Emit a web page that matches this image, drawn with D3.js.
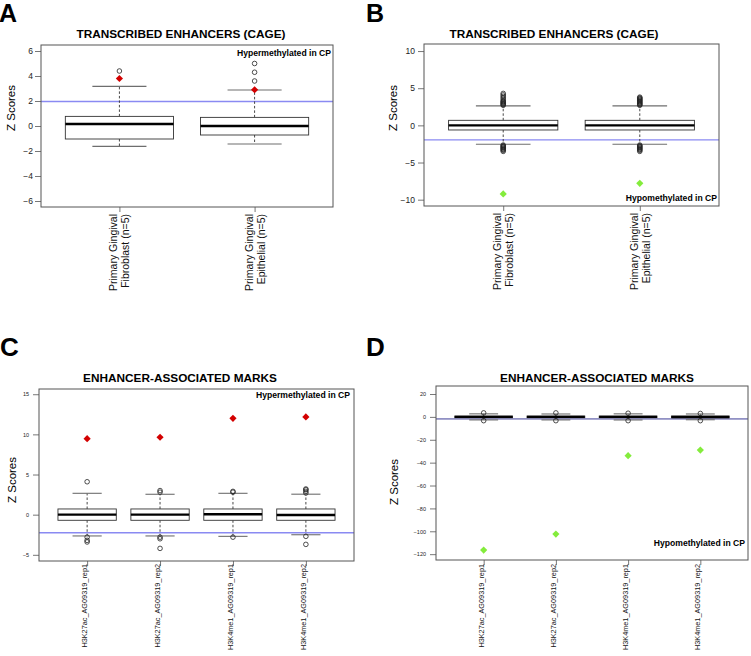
<!DOCTYPE html>
<html><head><meta charset="utf-8">
<script src="https://cdn.jsdelivr.net/npm/d3@7"></script>
<style>
body{margin:0;background:#fff}
svg{display:block;font-family:"Liberation Sans",Arial,Helvetica,sans-serif}
</style>
</head><body>
<svg id="chart" width="751" height="656"></svg>
<script>
// ---------------- DATA ----------------
const cageCategories = [["Primary Gingival", "Fibroblast (n=5)"], ["Primary Gingival", "Epithelial (n=5)"]];
const marksCategories = ["H3K27ac_AG09319_rep1", "H3K27ac_AG09319_rep2", "H3K4me1_AG09319_rep1", "H3K4me1_AG09319_rep2"];

// box stats: [lower whisker, Q1, median, Q3, upper whisker]
const aBoxStats = [[-1.63, -1.04, 0.16, 0.77, 3.17], [-1.44, -0.72, 0.0, 0.69, 2.88]];
const aOutliers = [[4.4], [3.6, 4.3, 5.0]];
const aHighlight = [3.8, 2.9];
const aTicks = [-6, -4, -2, 0, 2, 4, 6];
const aThreshold = 1.96;

const bBoxStats = [[-2.55, -0.62, 0.0, 0.68, 2.63], [-2.55, -0.62, 0.0, 0.68, 2.63]];
const bOutliers = [
  [2.7, 2.8, 2.9, 3.0, 3.1, 3.2, 3.3, 3.5, 3.7, 3.9, 4.1, 4.3, -2.65, -2.75, -2.85, -2.95, -3.05, -3.15, -3.25, -3.35, -3.5],
  [2.7, 2.8, 2.9, 3.0, 3.1, 3.2, 3.3, 3.4, 3.5, 3.6, 3.7, 3.8, -2.65, -2.75, -2.85, -2.95, -3.05, -3.15, -3.25, -3.35, -3.5]
];
const bHighlight = [-9.23, -7.8];
const bTicks = [-10, -5, 0, 5, 10];
const bThreshold = -1.96;

const cBoxStats = [
  [-2.65, -0.7, 0.0, 0.71, 2.66],
  [-2.65, -0.7, 0.0, 0.71, 2.54],
  [-2.7, -0.7, 0.05, 0.71, 2.66],
  [-2.5, -0.7, -0.05, 0.71, 2.55]
];
const cOutliers = [[4.1, -2.8, -3.2, -3.4], [2.8, 3.0, -2.8, -3.0, -4.2], [2.8, 2.9, -2.8], [2.7, 2.9, 3.1, 3.2, -2.7, -3.7]];
const cHighlight = [9.46, 9.64, 12.0, 12.17];
const cTicks = [-5, 0, 5, 10, 15];
const cThreshold = -2.24;

const dBoxStats = [
  [-2.65, -0.7, 0.0, 0.71, 2.66],
  [-2.65, -0.7, 0.0, 0.71, 2.54],
  [-2.7, -0.7, 0.05, 0.71, 2.66],
  [-2.5, -0.7, -0.05, 0.71, 2.55]
];
const dOutliers = [[3.5, -3.3], [3.5, -3.3], [3.2, -3.3], [3.0, -3.3]];
const dHighlight = [-116.4, -102.4, -33.9, -29.0];
const dTicks = [-120, -100, -80, -60, -40, -20, 0, 20];
const dThreshold = -1.8;

const titleCage = "TRANSCRIBED ENHANCERS (CAGE)";
const titleMarks = "ENHANCER-ASSOCIATED MARKS";
const noteHyper = "Hypermethylated in CP";
const noteHypo = "Hypomethylated in CP";
const yLabel = "Z Scores";

// ---------------- DRAW ----------------
const svg = d3.select("#chart");

function drawPanel(p) {
  const g = svg.append("g");
  const n = p.stats.length;
  const pad = n * 0.04;
  const x = d3.scaleLinear().domain([0.5 - pad, n + 0.5 + pad]).range([p.left, p.right]);
  const y = d3.scaleLinear().domain(p.yDomain).range([p.bottom, p.top]);
  const unit = x(1) - x(0);
  const boxHalf = unit * 0.4;
  const capHalf = boxHalf * 0.5;

  // panel letter
  g.append("text").attr("x", p.letterX).attr("y", p.letterY)
    .attr("font-size", p.letterSize).attr("font-weight", "bold").text(p.letter);

  // title
  g.append("text").attr("x", p.titleX).attr("y", p.titleY).attr("text-anchor", "middle")
    .attr("font-size", 11.8).attr("font-weight", "bold").text(p.title);

  // y axis
  const ya = g.append("g").attr("transform", `translate(${p.left},0)`)
    .call(d3.axisLeft(y).tickValues(p.ticks).tickSize(p.tickLen).tickPadding(p.tickPad).tickSizeOuter(0)
      .tickFormat(d => d3.format("d")(d)));
  ya.select(".domain").remove();
  ya.selectAll("line").attr("stroke", "#555").attr("stroke-width", 0.8);
  ya.selectAll("text").attr("font-size", p.tickFont).attr("fill", "#222")
    .attr("font-family", "'Liberation Sans',Arial,sans-serif");

  // x axis ticks
  const xa = g.append("g").attr("transform", `translate(0,${p.bottom})`)
    .call(d3.axisBottom(x).tickValues(d3.range(1, n + 1)).tickSize(5).tickFormat(""));
  xa.select(".domain").remove();
  xa.selectAll("line").attr("stroke", "#555").attr("stroke-width", 0.8);

  // y label
  g.append("text").attr("transform", `translate(${p.yLabX},${p.yLabY}) rotate(-90)`)
    .attr("text-anchor", "middle").attr("font-size", 11.5).text(yLabel);

  // threshold line
  g.append("line").attr("x1", p.left).attr("x2", p.right)
    .attr("y1", y(p.threshold)).attr("y2", y(p.threshold))
    .attr("stroke", p.threshColor).attr("stroke-width", p.threshWidth);

  // boxes
  p.stats.forEach((s, i) => {
    const cx = x(i + 1);
    const [lo, q1, med, q3, hi] = s;
    g.append("line").attr("x1", cx).attr("x2", cx).attr("y1", y(q3)).attr("y2", y(hi))
      .attr("stroke", "#333").attr("stroke-width", 0.9).attr("stroke-dasharray", "2.5,2");
    g.append("line").attr("x1", cx).attr("x2", cx).attr("y1", y(q1)).attr("y2", y(lo))
      .attr("stroke", "#333").attr("stroke-width", 0.9).attr("stroke-dasharray", "2.5,2");
    [lo, hi].forEach(v => g.append("line").attr("x1", cx - capHalf).attr("x2", cx + capHalf)
      .attr("y1", y(v)).attr("y2", y(v)).attr("stroke", "#6e6e6e").attr("stroke-width", 1.1));
    g.append("rect").attr("x", cx - boxHalf).attr("y", y(q3)).attr("width", boxHalf * 2)
      .attr("height", Math.max(0.5, y(q1) - y(q3))).attr("fill", "#fff").attr("stroke", "#333").attr("stroke-width", 0.9);
    g.append("line").attr("x1", cx - boxHalf).attr("x2", cx + boxHalf).attr("y1", y(med)).attr("y2", y(med))
      .attr("stroke", "#000").attr("stroke-width", 2.4);
    p.outliers[i].forEach(v => g.append("circle").attr("cx", cx).attr("cy", y(v)).attr("r", 2.3)
      .attr("fill", "none").attr("stroke", "#222").attr("stroke-width", 0.8));
    g.append("path").attr("d", d3.symbol(d3.symbolSquare, p.diamondArea)())
      .attr("transform", `translate(${cx},${y(p.highlight[i])}) rotate(45)`)
      .attr("fill", p.highlightColor);
  });

  // frame
  g.append("rect").attr("x", p.left).attr("y", p.top).attr("width", p.right - p.left)
    .attr("height", p.bottom - p.top).attr("fill", "none").attr("stroke", "#555").attr("stroke-width", 1);

  // note
  g.append("text").attr("x", p.noteX).attr("y", p.noteY).attr("text-anchor", "end")
    .attr("font-size", 8.6).attr("font-weight", "bold").text(p.note);

  // x labels
  p.categories.forEach((c, i) => {
    const cx = x(i + 1);
    const lines = Array.isArray(c) ? c : [c];
    lines.forEach((ln, k) => {
      const bx = cx + p.labOffsets[k];
      g.append("text").attr("transform", `translate(${bx},${p.labTop}) rotate(-90)`)
        .attr("text-anchor", "end").attr("font-size", p.labFont).attr("fill", "#111").text(ln);
    });
  });
}

drawPanel({
  letter: "A", letterX: -1, letterY: 22, letterSize: 25,
  title: titleCage, titleX: 181, titleY: 38,
  left: 41, right: 333, top: 45, bottom: 207, yDomain: [-6.48, 6.48],
  ticks: aTicks, tickLen: 6, tickPad: 2, tickFont: 8.5,
  yLabX: 15, yLabY: 108,
  threshold: aThreshold, threshColor: "#8a8af2", threshWidth: 1.3,
  stats: aBoxStats, outliers: aOutliers, highlight: aHighlight, highlightColor: "#d30000", diamondArea: 26,
  note: noteHyper, noteX: 331, noteY: 56,
  categories: cageCategories, labOffsets: [-2, 10], labTop: 214, labFont: 10.5
});

drawPanel({
  letter: "B", letterX: 366, letterY: 22, letterSize: 25,
  title: titleCage, titleX: 554, titleY: 38,
  left: 424, right: 719, top: 44, bottom: 206, yDomain: [-10.85, 10.95],
  ticks: bTicks, tickLen: 6, tickPad: 3, tickFont: 8.5,
  yLabX: 397, yLabY: 108,
  threshold: bThreshold, threshColor: "#8a8af2", threshWidth: 1.3,
  stats: bBoxStats, outliers: bOutliers, highlight: bHighlight, highlightColor: "#84ec3c", diamondArea: 26,
  note: noteHypo, noteX: 717, noteY: 201,
  categories: cageCategories, labOffsets: [-2, 10], labTop: 213, labFont: 10.5
});

drawPanel({
  letter: "C", letterX: 0, letterY: 356, letterSize: 26,
  title: titleMarks, titleX: 180, titleY: 382,
  left: 39, right: 354, top: 389, bottom: 561, yDomain: [-5.77, 15.65],
  ticks: cTicks, tickLen: 6, tickPad: 4, tickFont: 5.5,
  yLabX: 16, yLabY: 480,
  threshold: cThreshold, threshColor: "#8a8af2", threshWidth: 1.5,
  stats: cBoxStats, outliers: cOutliers, highlight: cHighlight, highlightColor: "#d30000", diamondArea: 26,
  note: noteHyper, noteX: 350, noteY: 398,
  categories: marksCategories, labOffsets: [0], labTop: 564, labFont: 7.3
});

drawPanel({
  letter: "D", letterX: 366, letterY: 356, letterSize: 26,
  title: titleMarks, titleX: 597, titleY: 382,
  left: 436, right: 748, top: 386, bottom: 560, yDomain: [-125.1, 27],
  ticks: dTicks, tickLen: 6, tickPad: 4, tickFont: 5.5,
  yLabX: 398, yLabY: 482,
  threshold: dThreshold, threshColor: "#3c3c96", threshWidth: 1,
  stats: dBoxStats, outliers: dOutliers, highlight: dHighlight, highlightColor: "#84ec3c", diamondArea: 26,
  note: noteHypo, noteX: 745, noteY: 546,
  categories: marksCategories, labOffsets: [0], labTop: 564, labFont: 7.3
});
</script>
</body></html>
